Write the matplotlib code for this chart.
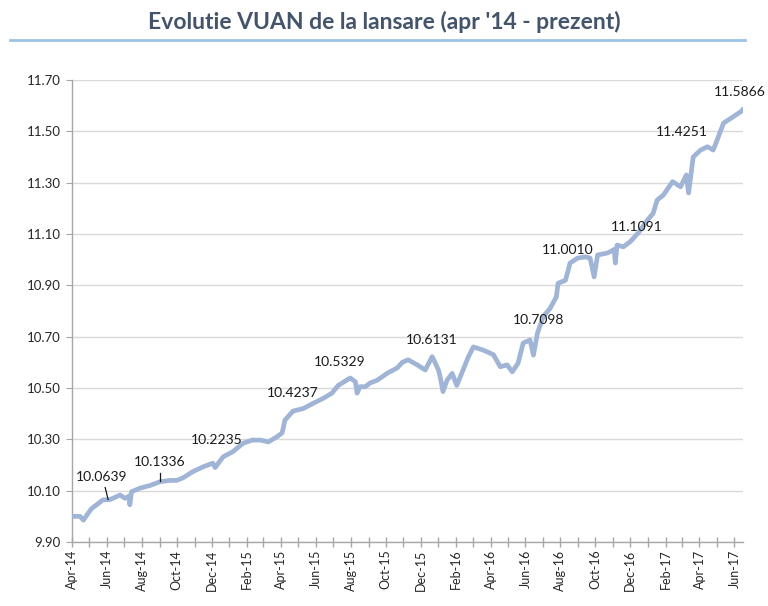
import matplotlib
matplotlib.use("Agg")
import matplotlib.pyplot as plt
import matplotlib.dates as mdates
from matplotlib.lines import Line2D
import pandas as pd

# VUAN values (approximate)
dates = [
    "2014-04-01", "2014-04-15", "2014-04-21", "2014-04-27", "2014-05-05", "2014-05-14",
    "2014-05-25", "2014-06-06", "2014-06-24", "2014-07-03", "2014-07-10", "2014-07-11",
    "2014-07-14", "2014-07-29", "2014-08-15", "2014-09-02", "2014-09-19", "2014-10-01",
    "2014-10-12", "2014-10-29", "2014-11-16", "2014-12-03", "2014-12-07", "2014-12-21",
    "2015-01-07", "2015-01-25", "2015-02-10", "2015-02-24", "2015-03-10", "2015-03-25",
    "2015-04-03", "2015-04-08", "2015-04-22", "2015-05-10", "2015-05-27", "2015-06-14",
    "2015-06-29", "2015-07-10", "2015-07-31", "2015-08-09", "2015-08-12", "2015-08-17",
    "2015-08-26", "2015-09-04", "2015-09-16", "2015-10-04", "2015-10-21", "2015-10-30",
    "2015-11-09", "2015-11-25", "2015-12-09", "2015-12-21", "2015-12-26", "2016-01-01",
    "2016-01-04", "2016-01-09", "2016-01-16", "2016-01-25", "2016-02-02", "2016-02-13",
    "2016-02-22", "2016-03-02", "2016-03-19", "2016-04-06", "2016-04-18", "2016-04-30",
    "2016-05-09", "2016-05-19", "2016-05-28", "2016-06-09", "2016-06-15", "2016-06-22",
    "2016-07-02", "2016-07-14", "2016-07-25", "2016-07-28", "2016-08-10", "2016-08-18",
    "2016-08-31", "2016-09-14", "2016-09-22", "2016-09-29", "2016-10-05", "2016-10-22",
    "2016-10-27", "2016-11-03", "2016-11-05", "2016-11-08", "2016-11-19", "2016-12-01",
    "2016-12-15", "2016-12-31", "2017-01-10", "2017-01-17", "2017-01-28", "2017-02-13",
    "2017-02-27", "2017-03-09", "2017-03-13", "2017-03-21", "2017-04-03", "2017-04-15",
    "2017-04-25", "2017-05-04", "2017-05-13", "2017-05-30", "2017-06-13", "2017-06-16",
]
vuan = [
    10.000, 10.000, 9.985, 10.005, 10.030, 10.045,
    10.064, 10.065, 10.083, 10.070, 10.080, 10.045,
    10.096, 10.110, 10.120, 10.135, 10.140, 10.140,
    10.150, 10.174, 10.193, 10.207, 10.190, 10.232,
    10.252, 10.285, 10.297, 10.297, 10.290, 10.310,
    10.325, 10.375, 10.410, 10.420, 10.440, 10.460,
    10.480, 10.510, 10.539, 10.524, 10.480, 10.505,
    10.505, 10.520, 10.530, 10.558, 10.578, 10.600,
    10.610, 10.590, 10.570, 10.622, 10.600, 10.570,
    10.544, 10.486, 10.530, 10.557, 10.510, 10.570,
    10.620, 10.660, 10.648, 10.630, 10.583, 10.590,
    10.563, 10.596, 10.675, 10.687, 10.628, 10.714,
    10.778, 10.810, 10.855, 10.908, 10.920, 10.987,
    11.006, 11.011, 11.006, 10.933, 11.018, 11.026,
    11.031, 11.040, 10.987, 11.057, 11.050, 11.070,
    11.104, 11.154, 11.180, 11.232, 11.252, 11.304,
    11.284, 11.330, 11.260, 11.400, 11.427, 11.440,
    11.427, 11.479, 11.532, 11.557, 11.578, 11.5866,
]

# data labels shown on the chart and where their text sits
label_text = ["10.0639", "10.1336", "10.2235", "10.4237", "10.5329", "10.6131",
              "10.7098", "11.0010", "11.1091", "11.4251", "11.5866"]
label_dates = ["2014-05-23", "2014-09-02", "2014-12-10", "2015-04-22", "2015-07-13",
               "2015-12-21", "2016-06-24", "2016-08-13", "2016-12-13", "2017-03-02",
               "2017-06-11"]
label_y = [10.153, 10.212, 10.297, 10.479, 10.602, 10.687, 10.765, 11.038, 11.128,
           11.498, 11.654]
# leader lines for the two labels that have them: (from date, from y, to date, to y)
leaders = [("2014-05-29", 10.112, "2014-06-03", 10.066),
           ("2014-09-02", 10.170, "2014-09-02", 10.136)]

FONT = "Lato"
GRID = "#D9D9D9"
AXIS = "#A6A6A6"

x = pd.to_datetime(dates)

fig = plt.figure(figsize=(7.68, 6.06), dpi=100)
ax = fig.add_axes([72 / 768, 1 - 542 / 606, (743 - 72) / 768, (542 - 80) / 606])

ax.plot(x, vuan, color="#A0B4D6", lw=3.4, solid_joinstyle="round",
        solid_capstyle="round", zorder=3)

for t, d, yv in zip(label_text, label_dates, label_y):
    ax.text(pd.Timestamp(d), yv, t, ha="center", va="center", fontsize=10,
            family=FONT, color="#1a1a1a", zorder=4)
for d0, y0, d1, y1 in leaders:
    ax.plot([pd.Timestamp(d0), pd.Timestamp(d1)], [y0, y1], color="#1a1a1a", lw=0.9, zorder=4)

ax.set_ylim(9.90, 11.70)
ax.set_yticks([9.90 + 0.2 * i for i in range(10)])
ax.yaxis.set_major_formatter(plt.FuncFormatter(lambda v, p: "{:.2f}".format(v)))
ax.set_xlim(x[0], x[-1])

ax.xaxis.set_major_locator(mdates.MonthLocator(bymonth=[2, 4, 6, 8, 10, 12]))
ax.xaxis.set_minor_locator(mdates.MonthLocator())
ax.xaxis.set_major_formatter(mdates.DateFormatter("%b-%y"))

ax.grid(axis="y", color=GRID, lw=1.0)
ax.set_axisbelow(True)
for s in ["top", "right"]:
    ax.spines[s].set_visible(False)
for s in ["left", "bottom"]:
    ax.spines[s].set_color(AXIS)
    ax.spines[s].set_linewidth(1.0)

ax.tick_params(axis="x", which="both", direction="inout", length=7, color=AXIS, width=1)
ax.tick_params(axis="x", which="major", labelsize=9, labelcolor="#262626", pad=2)
ax.tick_params(axis="y", direction="out", length=4, color=AXIS, labelsize=9.5,
               labelcolor="#262626", pad=4)
for lbl in ax.get_xticklabels():
    lbl.set_rotation(90)
    lbl.set_family(FONT)
for lbl in ax.get_yticklabels():
    lbl.set_family(FONT)

fig.text(0.5, 1 - 22 / 606, "Evolutie VUAN de la lansare (apr '14 - prezent)",
         ha="center", va="center", fontsize=16.5, fontweight="bold", family=FONT,
         color="#44546A")
fig.add_artist(Line2D([10 / 768, 745 / 768], [1 - 40 / 606, 1 - 40 / 606],
                      color="#9DC3E6", lw=2))

fig.savefig("out.png", dpi=100, facecolor="white")
